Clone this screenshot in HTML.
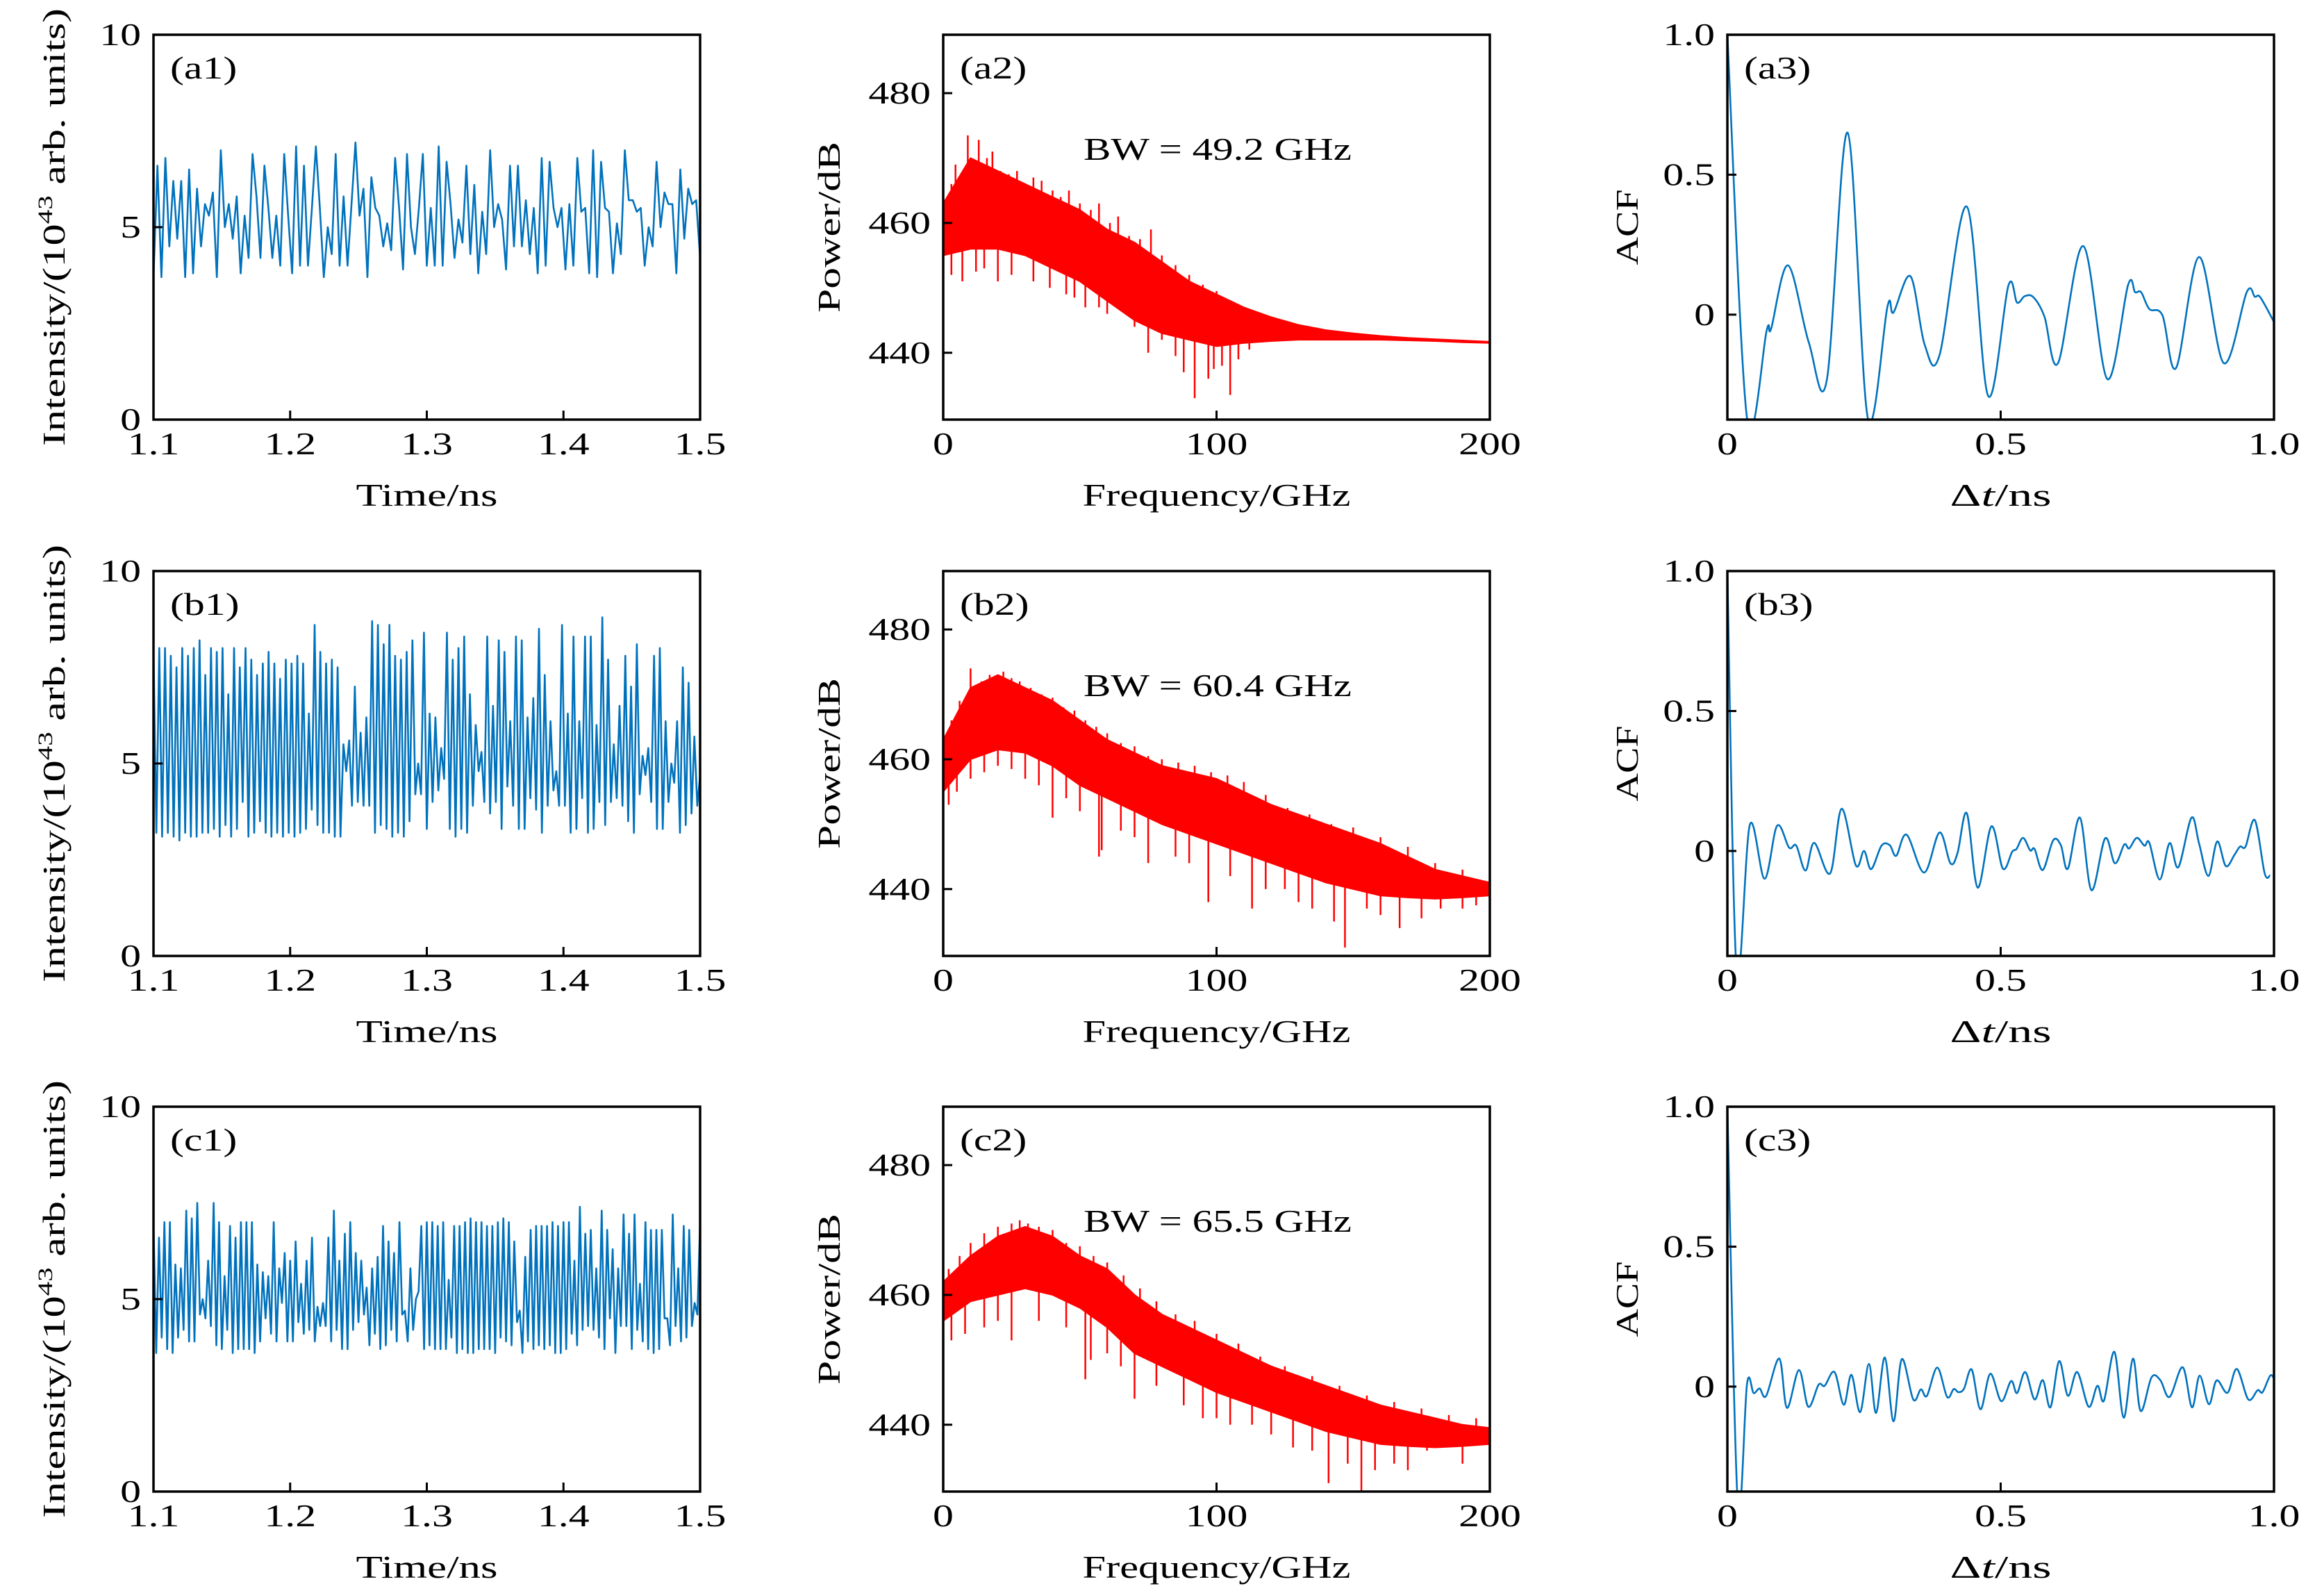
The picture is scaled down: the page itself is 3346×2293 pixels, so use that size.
<!DOCTYPE html>
<html><head><meta charset="utf-8"><title>Chaos signals</title>
<style>
html,body{margin:0;padding:0;background:#fff;}
svg{display:block;}
text{font-family:"Liberation Serif",serif;fill:#000;}
</style></head>
<body>
<svg id="fig" xmlns="http://www.w3.org/2000/svg" width="3346" height="2293" viewBox="0 0 3346 2293">
<defs id="defs"></defs>
</svg>
<script>
// ---------- data ----------
const timeTicks = [1.1, 1.2, 1.3, 1.4, 1.5];
const intensityTicks = [0, 5, 10];
const freqTicks = [0, 100, 200];
const powerTicks = [440, 460, 480];
const acfTicks = [0, 0.5, 1.0];
const acfTickLabels = ["0", "0.5", "1.0"];
const lagTicks = [0, 0.5, 1.0];
const lagTickLabels = ["0", "0.5", "1.0"];

const a1Vals = [3.7,6.6,3.7,6.8,4.5,6.2,4.7,6.2,3.7,6.5,3.8,6.0,4.5,5.6,5.3,5.9,3.7,7.0,5.0,5.6,4.7,5.8,3.8,5.3,4.2,6.9,5.8,4.2,6.6,5.5,4.2,5.3,4.0,6.9,5.3,3.8,7.1,4.0,6.6,4.0,5.5,7.1,5.5,3.7,5.0,4.3,6.9,4.0,5.8,4.0,5.6,7.2,5.3,6.0,3.7,6.3,5.5,5.3,4.5,5.1,4.4,6.8,5.5,3.9,6.9,5.0,4.3,5.5,6.9,4.0,5.5,4.0,7.1,4.0,6.7,5.6,4.2,5.2,4.6,6.6,4.3,6.1,3.8,5.4,4.3,7.0,5.0,5.6,5.2,3.9,6.6,4.5,6.6,4.5,5.7,4.3,5.5,3.8,6.8,4.0,6.7,5.5,5.0,5.5,3.9,5.6,4.0,6.8,5.4,5.5,3.8,7.0,3.7,6.7,5.5,5.4,3.8,5.1,4.3,7.0,5.7,5.7,5.4,5.5,4.0,5.0,4.5,6.7,5.0,5.9,5.6,5.6,3.8,6.5,4.7,6.0,5.6,5.7,4.2];
const b1Vals = [8.0,3.2,8.0,3.1,8.0,3.2,7.8,3.1,7.5,3.0,8.0,3.2,7.8,3.1,8.0,3.1,8.2,3.2,7.3,3.2,8.0,3.3,7.9,3.1,8.0,3.4,6.8,3.1,8.0,3.3,7.5,4.0,8.0,3.1,7.7,3.2,7.3,3.5,7.6,3.2,7.9,3.1,7.6,3.2,7.2,3.1,7.7,3.2,7.6,3.1,7.8,3.2,7.6,3.3,6.3,3.8,8.6,3.4,7.9,3.2,7.6,3.2,7.7,3.1,7.5,3.1,5.5,4.8,5.6,3.9,7.0,4.0,5.8,3.9,6.2,3.9,8.7,3.2,8.6,3.4,8.1,3.3,8.6,3.1,7.8,3.2,7.7,3.1,7.9,3.5,8.2,4.2,5.0,4.2,8.4,3.3,6.3,4.0,6.2,4.3,5.4,4.6,8.4,3.3,7.7,3.1,8.0,3.3,8.3,3.2,6.8,3.9,6.0,4.8,5.3,4.0,8.3,3.7,6.5,4.0,8.2,3.3,7.9,4.4,6.1,3.9,8.3,3.3,8.2,3.3,6.2,4.1,6.7,3.8,8.5,3.2,7.3,3.9,6.1,4.3,4.8,3.9,8.6,3.9,6.3,3.2,8.3,3.3,6.1,4.1,8.3,3.2,8.3,3.3,6.0,4.0,8.8,3.4,7.7,4.0,5.5,4.1,6.5,3.9,7.8,3.5,7.0,3.2,8.1,4.2,5.2,4.7,5.4,4.0,7.8,3.3,8.0,3.3,6.1,4.0,5.0,4.5,6.1,3.2,7.5,3.4,7.1,3.7,5.7,3.9,4.7];
const c1Vals = [7.0,3.6,6.6,4.0,7.0,3.7,7.0,3.6,5.9,4.0,5.8,4.2,7.3,3.9,7.1,3.9,7.5,4.6,5.0,4.5,6.0,4.3,7.5,3.8,7.0,3.7,5.6,4.2,6.9,3.6,6.6,3.7,7.0,3.7,7.0,3.7,7.0,3.6,5.9,3.9,5.7,4.5,5.6,4.1,7.0,3.9,5.8,4.9,6.2,3.9,6.0,3.9,6.5,4.4,5.4,4.1,6.0,4.2,6.6,3.9,4.8,4.3,4.9,4.3,6.6,3.9,7.3,4.2,6.0,3.7,6.7,3.7,7.0,4.2,6.2,4.4,6.0,4.6,5.3,3.8,5.8,4.1,6.1,3.7,6.9,3.8,6.5,4.2,6.2,3.9,7.0,4.6,4.7,3.9,5.8,4.2,5.0,5.2,6.9,3.7,7.0,3.8,7.0,3.7,6.9,3.7,7.0,3.7,5.5,4.0,6.9,3.6,6.9,3.7,7.0,3.6,7.1,3.6,7.0,3.7,7.0,3.7,6.9,3.7,6.9,3.6,7.0,4.0,7.1,3.9,7.0,3.8,6.5,4.4,4.7,3.6,6.1,3.9,6.8,3.7,6.9,3.8,6.9,3.7,6.9,3.8,7.0,3.6,6.9,3.6,7.0,3.7,7.0,4.1,6.0,3.8,7.4,4.2,6.7,4.3,6.8,4.2,5.8,4.0,7.3,3.7,6.8,4.5,6.3,3.6,5.8,4.3,7.2,4.3,6.7,3.7,7.2,4.2,5.4,3.9,7.0,3.7,6.8,3.6,6.8,3.7,6.8,4.5,4.5,3.8,7.2,4.3,5.8,3.9,6.9,4.0,6.8,4.3,4.9,4.6,7.0];

const specFreqs = [0,10,20,30,40,50,60,70,80,90,100,110,120,130,140,150,160,170,180,190,200];
const a2Upper = [463,470,468,466,464,462,459,457,454,451,449,447,445.5,444.3,443.5,443,442.6,442.3,442.1,441.9,441.7];
const a2Lower = [455,456,456,455,453,451,448,445,443,442,441,441.5,441.8,442,442,442,442,441.9,441.8,441.6,441.5];
const a2DipF = [3,12,15,39,57,60,75,85,92,97,105,112,115,128,7,20,25,33,45,48,52,65,70,80,88,99,102,108,120,125,135];
const a2DipV = [452,452.5,453,450,447,446,440,439.5,433,436,433.5,440.5,443,444,451,451,452,451,449,448.5,447,446.5,444,442,437,437.5,438,439,442,443,443.5];
const a2PeakF = [1,3,4.5,7,9,11,13,16,18,21,24,27,30,33,36,40,43,46,50,54,57,61,64,68,72,76,80,85,90,95,100,108,115];
const a2PeakV = [461,466,469,467,473.5,469,472.8,470,471,468,467.5,468,466,467,466.5,465,464,465,463,462,463,460,461,458,457.5,459,455,453.5,452,450.5,449.5,447.5,446];
const b2Upper = [463,471,473,471,469,466,463,461,459,458,457,455,453,451.5,450,448.5,447,445,443,442,441];
const b2Lower = [455,460,461.5,461,459,456,454,452,450,448.5,447,445.5,444,442.5,441,440,439,438.7,438.5,438.7,439];
const b2DipF = [2,5,40,57,58,75,97,113,118,135,143,147,155,167,182,10,15,20,25,30,35,45,50,65,70,85,90,105,125,130,160,175,190,195];
const b2DipV = [453,455,451,445,446,444,438,437,440,437,435,431,437,434,437,457,458,459,458.5,457,456,454,452,449,448,445,444,442,440,438,436,435.5,437,437.5];
const b2PeakF = [3,6,10,14,17,20,22,25,28,32,36,40,44,48,52,56,60,65,70,75,80,86,92,98,104,110,118,126,134,142,150,160,170,180,190];
const b2PeakV = [466,469,474,472,473,473,473.5,472.5,472,471,470,469.5,468,467.5,466,465,464,462.5,462,460.5,460,459.5,459,458,457.5,456.5,454.5,452.5,451.5,450,449.5,448,446.5,444,443];
const c2Upper = [462,466,469,470.5,469,466,464,460,457,455,453,451,449,447.5,446,444.5,443,442,441,440,439.5];
const c2Lower = [456,459,460,461,460,458,455,451,449,447,445,443.5,442,440.5,439,438,437,436.7,436.5,436.7,437];
const c2DipF = [3,25,52,54,70,95,113,135,141,153,165,177,182,8,15,20,35,45,60,65,78,88,100,105,120,128,148,158,170,190];
const c2DipV = [453,453,447,450,444,441,440,436,431,424.5,434,436,437,454,455,456,456,455,451,449,446,443,441,440,438.5,436.5,434,433,433,434];
const c2PeakF = [2,6,10,15,20,25,28,31,35,40,45,50,55,60,66,72,78,85,92,100,108,116,125,135,145,155,165,175,185,195];
const c2PeakV = [464,466,468,469.5,470.5,471,471.5,471,470.5,470,468,467.5,466,465,463,461,459,457,456,454,452.5,450.5,449,447.5,446,444.5,443.5,442.5,441.5,441];

const a3T = [0,0.036,0.072,0.08,0.111,0.149,0.182,0.22,0.257,0.293,0.304,0.335,0.361,0.388,0.438,0.477,0.514,0.53,0.544,0.56,0.58,0.605,0.651,0.695,0.733,0.746,0.757,0.772,0.796,0.821,0.863,0.908,0.95,0.965,0.975,1.0];
const a3V = [1.0,-0.37,-0.055,-0.05,0.176,-0.10,-0.233,0.65,-0.37,0.03,0.008,0.137,-0.108,-0.145,0.386,-0.29,0.103,0.043,0.066,0.062,-0.007,-0.173,0.245,-0.23,0.106,0.08,0.08,0.02,-0.003,-0.19,0.206,-0.173,0.08,0.064,0.062,-0.026];
const b3T = [0,0.017,0.041,0.068,0.091,0.113,0.126,0.143,0.159,0.188,0.209,0.235,0.25,0.263,0.282,0.297,0.309,0.328,0.36,0.388,0.408,0.421,0.438,0.458,0.483,0.504,0.521,0.529,0.541,0.554,0.562,0.577,0.596,0.61,0.623,0.645,0.666,0.691,0.709,0.726,0.735,0.749,0.763,0.772,0.791,0.809,0.825,0.849,0.863,0.88,0.896,0.912,0.928,0.938,0.948,0.965,0.983,0.993];
const b3V = [1.0,-0.43,0.093,-0.099,0.09,0.012,0.019,-0.07,0.029,-0.08,0.151,-0.051,0,-0.065,0.019,0.021,-0.017,0.058,-0.077,0.066,-0.044,-0.008,0.135,-0.131,0.088,-0.063,-0.003,0.007,0.047,0.002,0.007,-0.068,0.038,0.021,-0.063,0.119,-0.14,0.045,-0.044,0.023,0.009,0.047,0.019,0.029,-0.102,0.028,-0.058,0.119,0.026,-0.089,0.034,-0.054,-0.013,0.016,0.016,0.11,-0.08,-0.087];
const c3T = [0,0.019,0.036,0.048,0.059,0.071,0.095,0.109,0.131,0.148,0.167,0.178,0.196,0.213,0.227,0.243,0.259,0.272,0.288,0.304,0.319,0.34,0.354,0.365,0.384,0.402,0.414,0.423,0.433,0.447,0.463,0.481,0.501,0.519,0.53,0.545,0.562,0.577,0.591,0.607,0.623,0.64,0.661,0.677,0.689,0.708,0.725,0.742,0.756,0.776,0.792,0.809,0.833,0.85,0.864,0.881,0.895,0.915,0.932,0.953,0.97,0.979,0.993,1.0];
const c3V = [1.0,-0.42,0.01,-0.023,-0.007,-0.033,0.1,-0.076,0.059,-0.072,0.007,0.003,0.052,-0.065,0.042,-0.091,0.081,-0.094,0.104,-0.124,0.098,-0.046,-0.01,-0.033,0.068,-0.037,-0.009,-0.02,-0.007,0.061,-0.081,0.046,-0.052,0.02,-0.023,0.052,-0.046,0.023,-0.074,0.091,-0.033,0.052,-0.072,0.003,-0.05,0.124,-0.111,0.1,-0.087,0.033,0.023,-0.037,0.069,-0.074,0.039,-0.063,0.022,-0.022,0.063,-0.046,-0.013,-0.02,0.039,0.029];

// ---------- layout ----------
const NS = "http://www.w3.org/2000/svg";
const svg = document.getElementById("fig");
const defs = document.getElementById("defs");
const COLX = [221, 1358, 2487];
const ROWY = [50, 822, 1593];
const PW = 787, PH = 554;
const BLUE = "#0072BD", RED = "#FF0000";
const FS = 46;
const SX = 1.3;

function mk(tag, attrs, parent) {
  const e = document.createElementNS(NS, tag);
  for (const k in attrs) e.setAttribute(k, attrs[k]);
  (parent || svg).appendChild(e);
  return e;
}
function linScale(d0, d1, r0, r1) { return v => r0 + (v - d0) * (r1 - r0) / (d1 - d0); }

function smoothPath(pts) {
  let d = "M" + pts[0][0].toFixed(1) + "," + pts[0][1].toFixed(1);
  for (let i = 0; i < pts.length - 1; i++) {
    const p0 = pts[Math.max(0, i - 1)], p1 = pts[i], p2 = pts[i + 1], p3 = pts[Math.min(pts.length - 1, i + 2)];
    const c1x = p1[0] + (p2[0] - p0[0]) / 6, c1y = p1[1] + (p2[1] - p0[1]) / 6;
    const c2x = p2[0] - (p3[0] - p1[0]) / 6, c2y = p2[1] - (p3[1] - p1[1]) / 6;
    d += " C" + c1x.toFixed(1) + "," + c1y.toFixed(1) + " " + c2x.toFixed(1) + "," + c2y.toFixed(1) + " " + p2[0].toFixed(1) + "," + p2[1].toFixed(1);
  }
  return d;
}

function makePanel(id, col, row, xd, yd, xt, xtl, yt, ytl, xlabel, xlabelLen, ylabel, ylabelLen) {
  const x0 = COLX[col], y0 = ROWY[row];
  const sx = linScale(xd[0], xd[1], x0, x0 + PW);
  const sy = linScale(yd[0], yd[1], y0 + PH, y0);
  const g = mk("g", {});
  
  
  const cp = mk("clipPath", { id: "clip-" + id }, defs);
  mk("rect", { x: x0, y: y0, width: PW, height: PH }, cp);
  const plot = mk("g", { "clip-path": "url(#clip-" + id + ")" }, g);
  
  
  xt.forEach((v, i) => {
    const x = sx(v);
    const t = mk("line", { x1: x, x2: x, y1: y0 + PH, y2: y0 + PH - 13, stroke: "#000", "stroke-width": 3 }, g);
    
    
    const lb = mk("text", { x: 0, y: 0, "font-size": FS, "text-anchor": "middle", transform: "translate(" + x + "," + (y0 + PH + 50) + ") scale(" + SX + ",1)" }, g);
    lb.textContent = xtl[i];
    
    
  });
  yt.forEach((v, i) => {
    const y = sy(v);
    const t = mk("line", { x1: x0, x2: x0 + 13, y1: y, y2: y, stroke: "#000", "stroke-width": 3 }, g);
    
    
    const lb = mk("text", { x: 0, y: 0, "font-size": FS, "text-anchor": "end", transform: "translate(" + (x0 - 18) + "," + (y + 15) + ") scale(" + SX + ",1)" }, g);
    lb.textContent = ytl[i];
    
    
  });
  const xl = mk("text", { x: x0 + PW / 2, y: y0 + PH + 124, "font-size": FS, "text-anchor": "middle", textLength: xlabelLen, lengthAdjust: "spacingAndGlyphs" }, g);
  xl.innerHTML = xlabel;
  
  
  const lx = [77, 1193, 2342][col];
  const yl = mk("text", { x: 0, y: 0, "font-size": FS, "text-anchor": "middle", transform: "translate(" + (lx + 16) + "," + (y0 + PH / 2) + ") rotate(-90)", textLength: ylabelLen, lengthAdjust: "spacingAndGlyphs" }, g);
  yl.innerHTML = ylabel;
  
  
  const pl = mk("text", { x: 0, y: 0, "font-size": FS, transform: "translate(" + (x0 + 24) + "," + (y0 + 63) + ") scale(" + SX + ",1)" }, g);
  pl.textContent = "(" + id + ")";
  
  
  return { g, plot, sx, sy, x0, y0 };
}
function frame(p, id) {
  const f = mk("rect", { x: p.x0, y: p.y0, width: PW, height: PH, fill: "none", stroke: "#000", "stroke-width": 3.5 }, p.g);
  
  
}

const rows = ["a", "b", "c"];
const intensSeries = [a1Vals, b1Vals, c1Vals];
const specUpper = [a2Upper, b2Upper, c2Upper];
const specLower = [a2Lower, b2Lower, c2Lower];
const specDipF = [a2DipF, b2DipF, c2DipF];
const specDipV = [a2DipV, b2DipV, c2DipV];
const specPeakF = [a2PeakF, b2PeakF, c2PeakF];
const specPeakV = [a2PeakV, b2PeakV, c2PeakV];
const bwText = ["BW = 49.2 GHz", "BW = 60.4 GHz", "BW = 65.5 GHz"];
const acfT = [a3T, b3T, c3T];
const acfV = [a3V, b3V, c3V];

for (let r = 0; r < 3; r++) {
  const id1 = rows[r] + "1";
  const p1 = makePanel(id1, 0, r, [1.1, 1.5], [0, 10], timeTicks, timeTicks.map(v => v.toFixed(1)), intensityTicks, intensityTicks.map(String),
    "Time/ns", 204, 'Intensity/(10<tspan font-size="30" dy="-18">43</tspan><tspan dy="18"> arb. units)</tspan>', 630);
  const vals = intensSeries[r];
  const pts = vals.map((v, i) => p1.sx(1.1 + 0.4 * i / (vals.length - 1)).toFixed(1) + "," + p1.sy(v).toFixed(1));
  const ln = mk("polyline", { points: pts.join(" "), fill: "none", stroke: BLUE, "stroke-width": 2.6, "stroke-linejoin": "round" }, p1.plot);
  
  
  frame(p1, id1);

  const id2 = rows[r] + "2";
  const p2 = makePanel(id2, 1, r, [0, 200], [429.7, 489], freqTicks, freqTicks.map(String), powerTicks, powerTicks.map(String),
    "Frequency/GHz", 386, "Power/dB", 246);
  const up = specUpper[r], lo = specLower[r];
  let poly = specFreqs.map((f, i) => p2.sx(f).toFixed(1) + "," + p2.sy(up[i]).toFixed(1));
  for (let i = specFreqs.length - 1; i >= 0; i--) poly.push(p2.sx(specFreqs[i]).toFixed(1) + "," + p2.sy(lo[i]).toFixed(1));
  const band = mk("polygon", { points: poly.join(" "), fill: RED, stroke: RED, "stroke-width": 2, "stroke-linejoin": "round" }, p2.plot);
  
  
  function interp(arr, f) {
    for (let i = 0; i < specFreqs.length - 1; i++) {
      if (f <= specFreqs[i + 1]) { const t = (f - specFreqs[i]) / (specFreqs[i + 1] - specFreqs[i]); return arr[i] + t * (arr[i + 1] - arr[i]); }
    }
    return arr[arr.length - 1];
  }
  specDipF[r].forEach((f, i) => {
    const l = mk("line", { x1: p2.sx(f), x2: p2.sx(f), y1: p2.sy(interp(lo, f) + 1), y2: p2.sy(specDipV[r][i]), stroke: RED, "stroke-width": 2.5 }, p2.plot);
    
    
  });
  specPeakF[r].forEach((f, i) => {
    const l = mk("line", { x1: p2.sx(f), x2: p2.sx(f), y1: p2.sy(interp(up, f) - 1), y2: p2.sy(specPeakV[r][i]), stroke: RED, "stroke-width": 2.5 }, p2.plot);
    
    
  });
  const bw = mk("text", { x: p2.x0 + 202, y: p2.y0 + 180, "font-size": FS, textLength: 386, lengthAdjust: "spacingAndGlyphs" }, p2.g);
  bw.textContent = bwText[r];
  
  
  frame(p2, id2);

  const id3 = rows[r] + "3";
  const p3 = makePanel(id3, 2, r, [0, 1], [-0.375, 1.0], lagTicks, lagTickLabels, acfTicks, acfTickLabels,
    'Δ<tspan font-style="italic">t</tspan>/ns', 146, "ACF", 109);
  const ap = acfT[r].map((t, i) => [p3.sx(t), p3.sy(acfV[r][i])]);
  const ac = mk("path", { d: smoothPath(ap), fill: "none", stroke: BLUE, "stroke-width": 2.6 }, p3.plot);
  
  
  frame(p3, id3);
}
</script>
</body></html>
